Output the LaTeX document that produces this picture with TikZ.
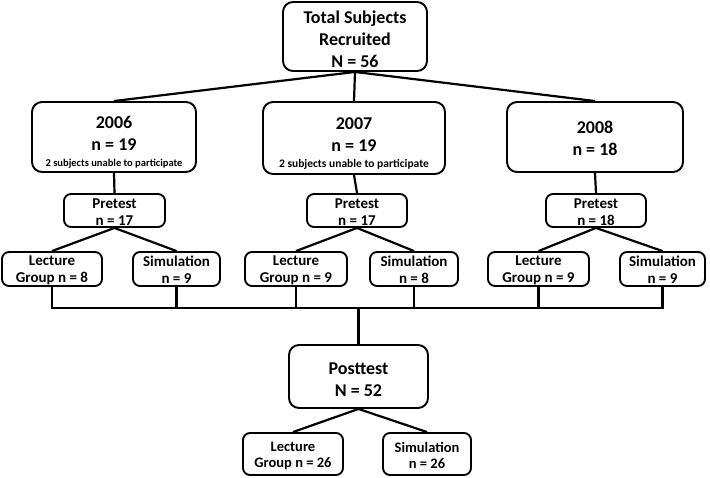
\documentclass[tikz,border=0pt]{standalone}
\usepackage{fontspec}
\setmainfont{Carlito}
\usetikzlibrary{positioning,calc}

\tikzset{
  box/.style={draw=black, line width=1.9pt, fill=white, align=center, inner sep=2pt},
  bigbox/.style={box, rounded corners=10pt, font=\fontsize{18}{22}\selectfont\bfseries},
  smallbox/.style={box, inner ysep=0pt, rounded corners=7pt, font=\fontsize{15}{17}\selectfont\bfseries},
  link/.style={line width=2.2pt}
}
% strut on the first line pushes the text down inside its box
\newcommand{\lift}[1]{\rule{0pt}{#1}}
\newcommand{\unable}[1]{{\fontsize{#1}{12}\selectfont 2 subjects unable to participate}}

\begin{document}
\begin{tikzpicture}[x=1pt, y=-1pt]
\useasboundingbox (0,0) rectangle (710,478);

% ================= TOP =================
\node[bigbox, minimum width=144pt, minimum height=69pt] (total) at (355,36.5)
{\lift{17.5pt}Total Subjects\\Recruited\\N = 56};

% ================= YEARS =================
\node[bigbox, minimum width=164pt, minimum height=70pt] (y2006) at (114,137)
{\lift{23.5pt}2006\\n = 19\\[-6pt]\unable{10.5}};
\node[bigbox, minimum width=182pt, minimum height=72pt] (y2007) at (354,138)
{\lift{23.5pt}2007\\n = 19\\[-6pt]\unable{11.5}};
\node[bigbox, minimum width=176pt, minimum height=70pt] (y2008) at (595,137)
{\lift{15.5pt}2008\\n = 18};

% --- pretests ---
\node[smallbox, minimum width=101pt, minimum height=33pt] (pre06) at (114.5,210.5) {\lift{13pt}Pretest\\n = 17};
\node[smallbox, minimum width=100pt, minimum height=33pt] (pre07) at (357,210.5) {\lift{13pt}Pretest\\n = 17};
\node[smallbox, minimum width=100pt, minimum height=33pt] (pre08) at (596,210.5) {\lift{13pt}Pretest\\n = 18};

% --- groups ---
\node[smallbox, minimum width=100pt, minimum height=34pt] (lec06) at (52,269) {\lift{13pt}Lecture\\Group n = 8};
\node[smallbox, minimum width=87pt, minimum height=34pt] (sim06) at (176.5,269) {\lift{13pt}Simulation\\n = 9};
\node[smallbox, minimum width=102pt, minimum height=34pt] (lec07) at (296,269) {\lift{13pt}Lecture\\Group n = 9};
\node[smallbox, minimum width=88pt, minimum height=34pt] (sim07) at (414,269) {\lift{13pt}Simulation\\n = 8};
\node[smallbox, minimum width=101pt, minimum height=34pt] (lec08) at (538.5,269) {\lift{13pt}Lecture\\Group n = 9};
\node[smallbox, minimum width=85pt, minimum height=34pt] (sim08) at (662.5,269) {\lift{13pt}Simulation\\n = 9};

% ================= POSTTEST =================
\node[bigbox, minimum width=139pt, minimum height=63pt] (post) at (358.5,376.5) {\lift{17.5pt}Posttest\\N = 52};
\node[smallbox, minimum width=100pt, minimum height=42pt, font=\fontsize{14.5}{16}\selectfont\bfseries] (lecpost) at (293,454) {\lift{14pt}Lecture\\Group n = 26};
\node[smallbox, minimum width=88pt, minimum height=42pt, font=\fontsize{14.5}{16}\selectfont\bfseries] (simpost) at (427,454) {\lift{14pt}Simulation\\n = 26};

% --- connectors ---
\draw[link] (total.south) -- (y2006.north);
\draw[link] (total.south) -- (y2007.north);
\draw[link] (total.south) -- (y2008.north);

\draw[link] (y2006.south) -- (pre06.north);
\draw[link] (y2007.south) -- (pre07.north);
\draw[link] (y2008.south) -- (pre08.north);

\draw[link] (pre06.south) -- (lec06.north);
\draw[link] (pre06.south) -- (sim06.north);
\draw[link] (pre07.south) -- (lec07.north);
\draw[link] (pre07.south) -- (sim07.north);
\draw[link] (pre08.south) -- (lec08.north);
\draw[link] (pre08.south) -- (sim08.north);

% bus
\coordinate (bus) at (0,308);
\draw[link] (lec06.south) -- (lec06.south |- bus) -- (sim08.south |- bus) -- (sim08.south);
\draw[link] (sim06.south) -- (sim06.south |- bus);
\draw[link] (lec07.south) -- (lec07.south |- bus);
\draw[link] (sim07.south) -- (sim07.south |- bus);
\draw[link] (lec08.south) -- (lec08.south |- bus);
\draw[link] (post.north |- bus) -- (post.north);

\draw[link] (post.south) -- (lecpost.north);
\draw[link] (post.south) -- (simpost.north);

\end{tikzpicture}
\end{document}
